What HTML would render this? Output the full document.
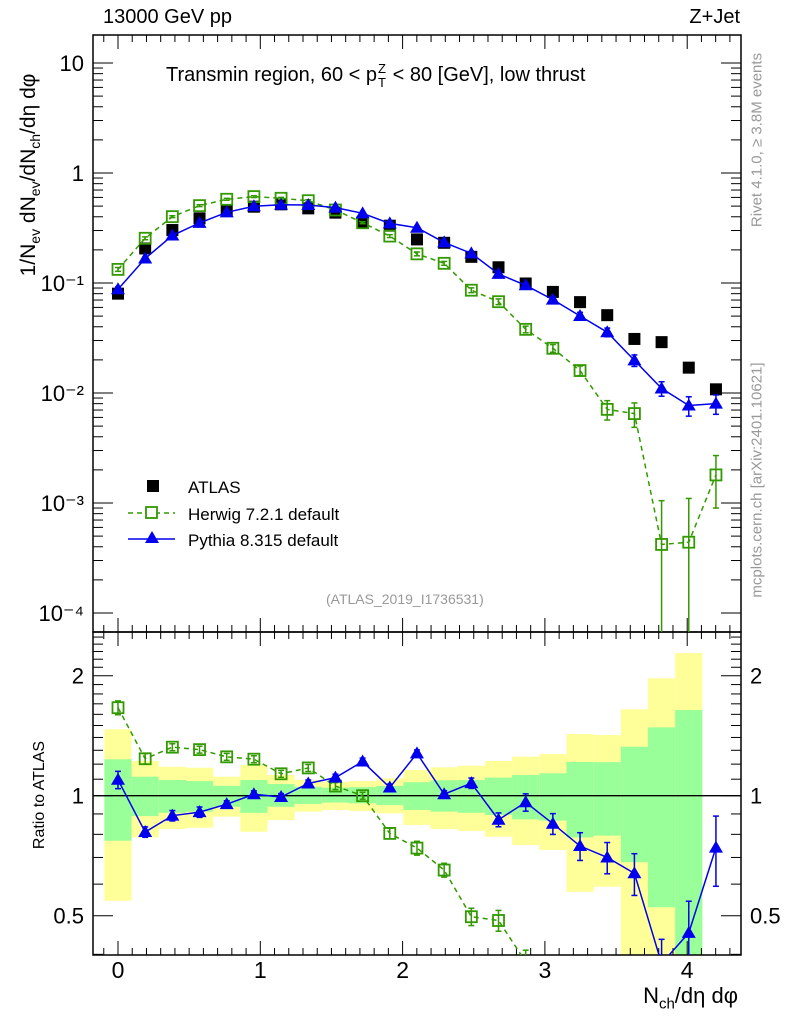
<!DOCTYPE html>
<html><head><meta charset="utf-8"><style>
html,body{margin:0;background:#fff;overflow:hidden;width:786px;height:1024px;}
svg{display:block;font-family:"Liberation Sans",sans-serif;}
</style></head><body>
<svg id="c" width="786" height="1024" viewBox="0 0 786 1024"></svg>
<script>
const xs=[0,0.191,0.382,0.573,0.764,0.955,1.146,1.337,1.528,1.719,1.91,2.101,2.292,2.483,2.674,2.865,3.056,3.247,3.438,3.629,3.82,4.011,4.202];
const atlas=[0.080,0.206,0.303,0.387,0.461,0.494,0.519,0.477,0.436,0.353,0.332,0.249,0.232,0.173,0.139,0.099,0.083,0.067,0.051,0.031,0.029,0.017,0.0108];
const pythia=[0.0877,0.167,0.270,0.352,0.439,0.498,0.515,0.512,0.484,0.430,0.348,0.318,0.234,0.186,0.121,0.0953,0.0706,0.0501,0.0357,0.0198,0.0110,0.0077,0.0080];
const pythiaErr=[0.05,0.03,0.03,0.03,0.02,0.02,0.02,0.02,0.02,0.02,0.02,0.02,0.02,0.03,0.04,0.05,0.06,0.08,0.09,0.12,0.15,0.2,0.2];
const herwig=[0.133,0.255,0.401,0.505,0.577,0.610,0.589,0.560,0.461,0.353,0.267,0.184,0.151,0.086,0.0676,0.0379,0.0255,0.0160,0.0071,0.0065,0.00042,0.00044,0.0018];
const herwigErr=[0.04,0.03,0.02,0.02,0.02,0.02,0.02,0.02,0.02,0.02,0.03,0.04,0.04,0.05,0.06,0.07,0.08,0.1,0.2,0.25,1.5,1.5,0.5];
const yelHi=[1.467,1.222,1.182,1.175,1.116,1.194,1.127,1.095,1.084,1.088,1.106,1.160,1.178,1.189,1.222,1.253,1.272,1.428,1.420,1.647,1.97,2.28];
const yelLo=[0.545,0.786,0.825,0.831,0.886,0.812,0.869,0.912,0.921,0.915,0.903,0.844,0.825,0.816,0.789,0.752,0.731,0.574,0.591,0.3,0.3,0.3];
const grnHi=[1.234,1.116,1.095,1.088,1.059,1.095,1.070,1.053,1.047,1.050,1.058,1.081,1.093,1.095,1.110,1.127,1.138,1.215,1.214,1.327,1.484,1.64];
const grnLo=[0.771,0.889,0.906,0.912,0.938,0.906,0.938,0.953,0.961,0.957,0.947,0.921,0.912,0.906,0.895,0.872,0.866,0.786,0.794,0.681,0.525,0.3];
const yTicks=[10,1,0.1,0.01,0.001,0.0001];
const yTickLabels=["10","1","10⁻¹","10⁻²","10⁻³","10⁻⁴"];
const xTicks=[0,1,2,3,4];
const rTicks=[2,1,0.5];

const svg=document.getElementById('c');
const NS='http://www.w3.org/2000/svg';
function mk(t,a,p){const e=document.createElementNS(NS,t);for(const k in a)e.setAttribute(k,a[k]);(p||svg).appendChild(e);return e;}
const L=93,R=741,T=35,B=632,RT=632,RB=955;
const X=v=>118+v*142.3;
const Y=v=>173-Math.log10(v)*110;
const RY=v=>Math.min(Math.max(795.7-Math.log2(v)*120,RT),RB);
const clipM=mk('clipPath',{id:'cm'});mk('rect',{x:L,y:T,width:R-L,height:B-T},clipM);
const clipR=mk('clipPath',{id:'cr'});mk('rect',{x:L,y:RT,width:R-L,height:RB-RT},clipR);

const gb=mk('g',{'clip-path':'url(#cr)'});


for(let i=0;i<yelHi.length;i++){
  const x0=X(xs[i]-0.0955),x1=X(xs[i]+0.0955);
  const r1=mk('rect',{x:x0,y:RY(yelHi[i]),width:x1-x0,height:RY(yelLo[i])-RY(yelHi[i]),fill:'#ffff99'},gb);
  
  
  const r2=mk('rect',{x:x0,y:RY(grnHi[i]),width:x1-x0,height:RY(grnLo[i])-RY(grnHi[i]),fill:'#99ff99'},gb);
  
  
}
mk('line',{x1:L,x2:R,y1:795.7,y2:795.7,stroke:'#000','stroke-width':1.3});

mk('rect',{x:L,y:T,width:R-L,height:B-T,fill:'none',stroke:'#000','stroke-width':1.5});
mk('rect',{x:L,y:RT,width:R-L,height:RB-RT,fill:'none',stroke:'#000','stroke-width':1.5});

for(let k=-1;k<=43;k++){
  const vv=k/10;const maj=k%10==0;const l=maj?14:7;
  [[T,1],[B,-1],[RT,1],[RB,-1]].forEach(([y,d])=>mk('line',{x1:X(vv),x2:X(vv),y1:y,y2:y+d*l,stroke:'#000'}));
}
xTicks.forEach(v=>{const t=mk('text',{x:X(v),y:978,'font-size':23,'text-anchor':'middle'});t.textContent=v;
 
 });
for(let e=-4;e<=1;e++){for(let m=1;m<10;m++){const v=m*Math.pow(10,e);const y=Y(v);if(y<T)continue;const l=m==1?20:10;
 mk('line',{x1:L,x2:L+l,y1:y,y2:y,stroke:'#000'});mk('line',{x1:R,x2:R-l,y1:y,y2:y,stroke:'#000'});}}
yTicks.forEach((v,i)=>{const t=mk('text',{x:84,y:Y(v)+8,'font-size':22,'text-anchor':'end'});t.textContent=yTickLabels[i];
 
 });
for(let k=4;k<=25;k++){const vv=k/10;const y=795.7-Math.log2(vv)*120;if(y<RT||y>RB)continue;
 const l=(k==10||k==20||k==5)?20:10;mk('line',{x1:L,x2:L+l,y1:y,y2:y,stroke:'#000'});mk('line',{x1:R,x2:R-l,y1:y,y2:y,stroke:'#000'});}
rTicks.forEach(v=>{[[84,'end'],[750,'start']].forEach(([x,a])=>{const t=mk('text',{x:x,y:RY(v)+8,'font-size':22,'text-anchor':a});t.textContent=v;
 
 });});

function series(vals,errs,color,dash,marker,yfRaw,clip,name,top,bot){
  const yf=v=>Math.min(Math.max(yfRaw(v),top-20),bot+20);
  const g=mk('g',{'clip-path':clip});
  
  
  if(color!=='#000'){mk('polyline',{points:vals.map((v,i)=>X(xs[i])+','+yf(v)).join(' '),fill:'none',stroke:color,'stroke-width':1.5,'stroke-dasharray':dash||''},g);}
  vals.forEach((v,i)=>{const x=X(xs[i]),y=yf(v);
    if(errs){const e=errs[i];const y1=yf(v*(1+e));const lo=v*(1-e);const y2raw=lo>0?yfRaw(lo):1e9;const y2=Math.min(y2raw,bot);
      mk('line',{x1:x,x2:x,y1:y1,y2:y2,stroke:color,'stroke-width':1.5},g);
      mk('line',{x1:x-3,x2:x+3,y1:y1,y2:y1,stroke:color,'stroke-width':1.5},g);
      if(y2raw<bot)mk('line',{x1:x-3,x2:x+3,y1:y2,y2:y2,stroke:color,'stroke-width':1.5},g);}
    if(y>bot+10)return;
    let m;
    if(marker=='sq')m=mk('rect',{x:x-6,y:y-6,width:12,height:12,fill:'#000'},g);
    else if(marker=='osq')m=mk('rect',{x:x-5.5,y:y-5.5,width:11,height:11,fill:'#fff','fill-opacity':0,stroke:color,'stroke-width':1.8},g);
    else m=mk('polygon',{points:`${x},${y-7} ${x-7},${y+5} ${x+7},${y+5}`,fill:color},g);
    
    
  });
}
const Yr=v=>173-Math.log10(v)*110;
const RYr=v=>795.7-Math.log2(v)*120;
series(atlas,null,'#000',null,'sq',Yr,'url(#cm)','atlas-series',T,B);
series(herwig,herwigErr,'#339900','5,4','osq',Yr,'url(#cm)','herwig-series',T,B);
series(pythia,pythiaErr,'#0000ee',null,'tri',Yr,'url(#cm)','pythia-series',T,B);
series(herwig.map((v,i)=>v/atlas[i]),herwigErr,'#339900','5,4','osq',RYr,'url(#cr)','herwig-ratio',RT,RB);
series(pythia.map((v,i)=>v/atlas[i]),pythiaErr,'#0000ee',null,'tri',RYr,'url(#cr)','pythia-ratio',RT,RB);

const lg=mk('g',{});


mk('rect',{x:147,y:480,width:12,height:12,fill:'#000'},lg);
mk('line',{x1:128,x2:175,y1:513,y2:513,stroke:'#339900','stroke-width':1.5,'stroke-dasharray':'5,4'},lg);
mk('rect',{x:146,y:507,width:11,height:11,fill:'#fff',stroke:'#339900','stroke-width':1.8},lg);
mk('line',{x1:128,x2:175,y1:539,y2:539,stroke:'#0000ee','stroke-width':1.5},lg);
mk('polygon',{points:'152,531 145,543 159,543',fill:'#0000ee'},lg);
[['ATLAS',493],['Herwig 7.2.1 default',520],['Pythia 8.315 default',546]].forEach(([s,y])=>{const t=mk('text',{x:188,y:y,'font-size':17},lg);t.textContent=s;});
</script>
<div style="position:absolute;left:0;top:0;width:786px;height:1024px;overflow:hidden;pointer-events:none;font-family:'Liberation Sans',sans-serif;">
<div style="position:absolute;left:103px;top:6px;font-size:20px;">13000 GeV pp</div>
<div style="position:absolute;right:46px;top:6px;font-size:20px;">Z+Jet</div>
<div style="position:absolute;left:166px;top:64px;font-size:20px;white-space:nowrap;">Transmin region, 60 &lt; p<span style="display:inline-block;position:relative;width:10px;height:10px;"><span style="position:absolute;left:1px;top:-10px;font-size:13px;">Z</span><span style="position:absolute;left:1px;top:4px;font-size:13px;">T</span></span> &lt; 80 [GeV], low thrust</div>
<div style="position:absolute;left:326px;top:591px;font-size:14px;color:#999;">(ATLAS_2019_I1736531)</div>
<div style="position:absolute;top:175px;font-size:21px;white-space:nowrap;transform:translate(-50%,-50%) rotate(-90deg);left:30px;">1/N<sub style="font-size:14px">ev</sub> dN<sub style="font-size:14px">ev</sub>/dN<sub style="font-size:14px">ch</sub>/dη dφ</div>
<div style="position:absolute;left:40px;top:795px;font-size:16px;white-space:nowrap;transform:translate(-50%,-50%) rotate(-90deg);">Ratio to ATLAS</div>
<div style="position:absolute;right:48px;top:983px;font-size:22px;white-space:nowrap;">N<sub style="font-size:15px">ch</sub>/dη dφ</div>
<div style="position:absolute;left:757px;top:140px;font-size:15px;color:#999;white-space:nowrap;transform:translate(-50%,-50%) rotate(-90deg);">Rivet 4.1.0, ≥ 3.8M events</div>
<div style="position:absolute;left:757px;top:480px;font-size:15px;color:#999;white-space:nowrap;transform:translate(-50%,-50%) rotate(-90deg);">mcplots.cern.ch [arXiv:2401.10621]</div>
</div>
</body></html>
